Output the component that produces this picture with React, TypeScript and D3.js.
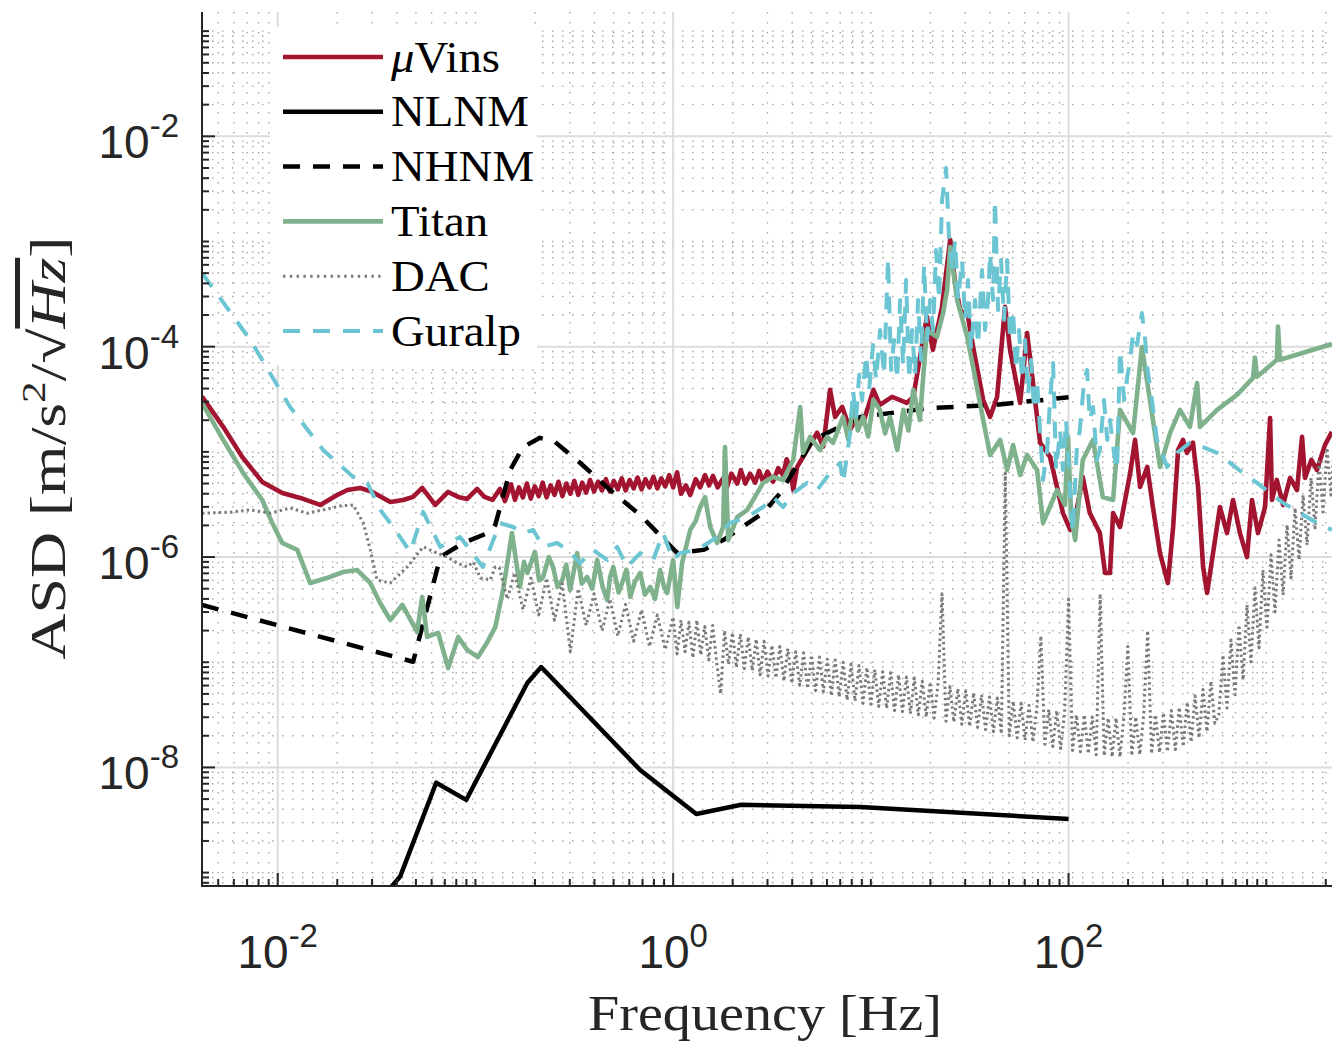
import React, { useEffect, useRef } from "react";
import * as d3 from "d3";

type Pt = [number, number];

// [frequency Hz, ASD m/s^2/sqrt(Hz)]
const uvins: Pt[] = [
  [0.00414, 3.35e-5], [0.0053, 1.73e-5], [0.00661, 8.96e-6], [0.00835, 5.18e-6], [0.01055, 4.06e-6],
  [0.013, 3.65e-6], [0.0164, 3.13e-6], [0.02, 3.89e-6], [0.0225, 4.34e-6], [0.0261, 4.54e-6],
  [0.0301, 4.16e-6], [0.0371, 3.34e-6], [0.0431, 3.49e-6], [0.0484, 3.73e-6], [0.0538, 4.54e-6],
  [0.0626, 3.13e-6], [0.0728, 4.16e-6], [0.0818, 3.73e-6], [0.0908, 3.57e-6], [0.102, 4.44e-6],
  [0.111, 3.73e-6], [0.122, 3.49e-6], [0.133, 4.44e-6], [0.141, 3.41e-6],
  [0.1514, 4.9e-6], [0.1585, 3.5e-6], [0.166, 4.6e-6], [0.1738, 3.7e-6], [0.182, 5.0e-6],
  [0.1905, 3.6e-6], [0.1995, 4.7e-6], [0.2089, 3.8e-6], [0.2188, 5.1e-6], [0.2291, 3.7e-6],
  [0.2399, 4.8e-6], [0.2512, 3.9e-6], [0.263, 5.2e-6], [0.2754, 3.8e-6], [0.2884, 5.0e-6],
  [0.302, 4.0e-6], [0.3162, 5.3e-6], [0.3311, 3.9e-6], [0.3467, 5.1e-6], [0.3631, 4.1e-6],
  [0.3802, 5.4e-6], [0.3981, 4.2e-6], [0.4169, 5.2e-6], [0.4365, 4.3e-6], [0.4571, 5.5e-6],
  [0.4786, 4.2e-6], [0.5012, 5.3e-6], [0.5248, 4.4e-6], [0.5495, 5.6e-6], [0.5754, 4.3e-6],
  [0.6026, 5.4e-6], [0.631, 4.5e-6], [0.6607, 5.7e-6], [0.6918, 4.4e-6], [0.7244, 5.5e-6],
  [0.7586, 4.6e-6], [0.7943, 5.8e-6], [0.8318, 4.5e-6], [0.871, 5.6e-6], [0.912, 4.7e-6],
  [0.955, 6.0e-6], [1.0, 4.6e-6], [1.047, 6.4e-6], [1.096, 4.0e-6], [1.16, 4.8e-6],
  [1.22, 3.89e-6], [1.3, 5.5e-6], [1.37, 4.6e-6], [1.45, 6.0e-6], [1.52, 4.8e-6],
  [1.59, 5.9e-6], [1.68, 4.6e-6], [1.79, 5.6e-6], [1.87, 4.6e-6], [1.97, 6.2e-6],
  [2.11, 5.0e-6], [2.2, 6.7e-6], [2.32, 5.0e-6], [2.45, 6.2e-6], [2.6, 5.1e-6],
  [2.72, 6.6e-6], [2.85, 5.2e-6], [3.0, 6.5e-6], [3.2, 5.2e-6], [3.4, 7.0e-6],
  [3.6, 6.0e-6], [3.75, 8.5e-6], [3.91, 7.0e-6], [4.05, 4.34e-6], [4.24, 7.19e-6],
  [4.76, 1.04e-5], [5.35, 1.52e-5], [5.74, 1.12e-5], [6.22, 3.89e-5], [6.59, 2.15e-5],
  [7.16, 2.68e-5], [7.85, 1.62e-5], [8.51, 2.15e-5], [9.14, 1.88e-5], [10.3, 3.89e-5],
  [11.1, 2.8e-5], [12.8, 3.33e-5], [15.2, 2.92e-5], [16.4, 3.33e-5], [19.2, 1.92e-4],
  [20.6, 9.33e-5], [22.9, 2.39e-4], [25.2, 1.04e-3], [26.7, 4.04e-4], [28.3, 2.23e-4],
  [31.0, 1.92e-4], [32.9, 9.93e-5], [37.0, 3.11e-5], [40.1, 2.15e-5], [43.5, 3.33e-5],
  [47.7, 2.39e-4], [50.6, 9.33e-5], [56.9, 2.92e-5], [61.7, 1.35e-4], [66.1, 4.52e-5],
  [71.8, 1.22e-5], [80.6, 8.96e-6], [93.7, 2.62e-6], [102, 1.81e-6], [110, 2.81e-6],
  [118, 5.78e-6], [128, 2.62e-6], [144, 1.69e-6], [153, 7.05e-7], [162, 7.05e-7],
  [168, 2.62e-6], [182, 1.93e-6], [205, 6.31e-6], [217, 1.3e-5], [230, 4.64e-6],
  [250, 7.19e-6], [267, 2.99e-6], [290, 1.09e-6], [318, 5.66e-7], [338, 1.93e-6],
  [358, 1.04e-5], [379, 1.3e-5], [397, 9.77e-6], [426, 1.22e-5], [452, 4.64e-6],
  [479, 8.05e-7], [502, 4.56e-7], [538, 1.09e-6], [583, 2.99e-6], [633, 1.69e-6],
  [679, 3.49e-6], [736, 1.69e-6], [799, 1.0e-6], [847, 3.49e-6], [908, 1.69e-6],
  [986, 2.99e-6], [1045, 2.1e-5], [1069, 3.49e-6], [1130, 5.41e-6], [1216, 3.13e-6],
  [1320, 5.65e-6], [1430, 4.34e-6], [1517, 1.39e-5], [1570, 5.65e-6], [1690, 8.38e-6],
  [1804, 6.73e-6], [1980, 1.16e-5], [2148, 1.55e-5],
];

const nlnm: Pt[] = [
  [0.0346, 6.1e-10], [0.0416, 9.17e-10], [0.0633, 7.16e-9], [0.0898, 4.91e-9], [0.183, 6.35e-8],
  [0.215, 9.0e-8], [0.681, 9.46e-9], [1.31, 3.61e-9], [2.21, 4.41e-9], [8.83, 4.21e-9], [100, 3.24e-9],
];

const nhnm: Pt[] = [
  [0.00414, 3.51e-7], [0.0484, 1.01e-7], [0.0664, 1.0e-6], [0.0867, 1.36e-6], [0.119, 1.73e-6],
  [0.126, 2.02e-6], [0.15, 6.73e-6], [0.174, 1.11e-5], [0.212, 1.36e-5], [0.253, 1.24e-5],
  [0.339, 7.84e-6], [0.48, 4.34e-6], [0.681, 2.51e-6], [1.05, 1.09e-6], [1.42, 1.17e-6],
  [1.79, 1.45e-6], [2.85, 2.62e-6], [3.48, 4.06e-6], [5.1, 1.3e-5], [8.83, 2.15e-5],
  [19.9, 2.61e-5], [41.5, 2.79e-5], [100, 3.3e-5],
];

const titan: Pt[] = [
  [0.00414, 2.92e-5], [0.0053, 1.3e-5], [0.00668, 6.31e-6], [0.00835, 3.49e-6], [0.00938, 2.11e-6],
  [0.01055, 1.36e-6], [0.01256, 1.17e-6], [0.01459, 5.67e-7], [0.01841, 6.47e-7], [0.02143, 7.21e-7],
  [0.02523, 7.53e-7], [0.02937, 5.67e-7], [0.03297, 3.66e-7], [0.0371, 2.52e-7], [0.0427, 3.51e-7],
  [0.0507, 1.94e-7], [0.0538, 4.18e-7], [0.057, 1.74e-7], [0.0648, 1.9e-7], [0.0728, 8.81e-8],
  [0.0818, 1.74e-7], [0.0908, 1.31e-7], [0.103, 1.12e-7], [0.115, 1.56e-7], [0.126, 2.16e-7],
  [0.138, 4.86e-7], [0.153, 1.69e-6], [0.168, 5.2e-7], [0.176, 9.0e-7], [0.183, 7.06e-7],
  [0.2, 1.12e-6], [0.21, 6.0e-7], [0.22, 6.47e-7], [0.235, 1.0e-6], [0.247, 8.05e-7],
  [0.26, 5.2e-7], [0.275, 6.05e-7], [0.288, 8.5e-7], [0.301, 4.86e-7], [0.315, 7.5e-7],
  [0.327, 1.09e-6], [0.345, 5.6e-7], [0.367, 6.47e-7], [0.39, 5.0e-7], [0.413, 9.38e-7],
  [0.44, 5.2e-7], [0.464, 3.91e-7], [0.48, 6.5e-7], [0.498, 8.05e-7], [0.53, 4.6e-7],
  [0.559, 6.05e-7], [0.58, 7.6e-7], [0.607, 4.18e-7], [0.64, 5.8e-7], [0.681, 7.06e-7],
  [0.72, 4.4e-7], [0.765, 5.2e-7], [0.81, 4.0e-7], [0.859, 7.53e-7], [0.9, 5.2e-7],
  [0.933, 4.56e-7], [0.97, 6.8e-7], [1.0, 9.38e-7], [1.05, 3.35e-7], [1.11, 8.77e-7],
  [1.22, 1.81e-6], [1.3, 2.2e-6], [1.37, 2.99e-6], [1.45, 3.72e-6], [1.54, 1.93e-6],
  [1.67, 1.36e-6], [1.79, 1.93e-6], [1.83, 1.11e-5], [1.9, 1.45e-6], [2.11, 2.4e-6],
  [2.37, 2.81e-6], [2.66, 4.06e-6], [2.85, 5.07e-6], [3.2, 5.78e-6], [3.6, 5.41e-6],
  [4.05, 8.38e-6], [4.39, 2.67e-5], [4.54, 9.77e-6], [4.93, 1.39e-5], [5.53, 1.04e-5],
  [6.01, 1.39e-5], [6.44, 1.22e-5], [7.24, 2.15e-5], [7.7, 1.3e-5], [8.13, 2.92e-5],
  [8.6, 1.6e-5], [9.14, 2.15e-5], [9.7, 1.4e-5], [10.3, 3.12e-5], [11.1, 2.51e-5],
  [11.8, 1.5e-5], [12.5, 2.15e-5], [13.6, 1.04e-5], [14.6, 2.51e-5], [15.5, 1.6e-5],
  [16.4, 3.89e-5], [17.7, 2.01e-5], [19.2, 1.44e-4], [21.6, 1.24e-4], [23.2, 2.09e-4],
  [24.3, 3.46e-4], [25.2, 8.87e-4], [27.3, 2.78e-4], [30.7, 1.24e-4], [32.9, 6.41e-5],
  [37.0, 2.01e-5], [40.1, 9.35e-6], [45.1, 1.3e-5], [48.9, 6.73e-6], [52.4, 1.16e-5],
  [56.9, 6.04e-6], [61.7, 9.35e-6], [69.3, 6.73e-6], [74.3, 2.11e-6], [87.5, 4.34e-6],
  [95.9, 3.13e-6], [99.4, 1.39e-5], [103, 2.51e-6], [108, 1.45e-6], [118, 8.38e-6],
  [133, 1.3e-5], [149, 3.72e-6], [168, 3.49e-6], [182, 2.51e-5], [212, 1.51e-5],
  [235, 9.93e-5], [258, 3.11e-5], [290, 7.19e-6], [326, 1.51e-5], [366, 2.51e-5],
  [411, 1.73e-5], [447, 4.52e-5], [462, 1.73e-5], [564, 2.51e-5], [711, 3.48e-5],
  [857, 5.06e-5], [877, 7.84e-5], [898, 5.17e-5], [1132, 7.5e-5], [1146, 1.55e-4],
  [1172, 7.5e-5], [1535, 8.75e-5], [2148, 1.06e-4],
];

const dac: Pt[] = [
  [0.00414, 2.61e-6], [0.00575, 2.67e-6], [0.00726, 2.81e-6], [0.00917, 2.61e-6], [0.01156, 2.93e-6],
  [0.0141, 2.61e-6], [0.017, 2.81e-6], [0.0207, 3.06e-6], [0.0241, 3.13e-6], [0.0271, 2.11e-6],
  [0.0294, 1.17e-6], [0.0318, 6.05e-7], [0.0371, 5.67e-7], [0.0452, 8.05e-7], [0.0544, 1.25e-6],
  [0.0641, 1.09e-6], [0.072, 1.0e-6], [0.0809, 8.77e-7], [0.0908, 8.05e-7], [0.0975, 8.97e-7],
  [0.106, 6.32e-7], [0.119, 6.05e-7], [0.126, 8.05e-7],
  [0.132, 7.94e-7], [0.145, 3.98e-7], [0.158, 7.08e-7], [0.174, 3.16e-7], [0.191, 6.31e-7],
  [0.209, 2.82e-7], [0.229, 6.31e-7], [0.251, 2.51e-7], [0.275, 5.62e-7], [0.302, 1.26e-7],
  [0.331, 5.01e-7], [0.363, 2.24e-7], [0.398, 4.47e-7], [0.437, 2.0e-7], [0.479, 3.98e-7],
  [0.525, 1.78e-7], [0.575, 3.55e-7], [0.631, 1.58e-7], [0.692, 3.16e-7], [0.759, 1.41e-7],
  [0.832, 2.82e-7], [0.912, 1.32e-7],
  [1.0, 2.69e-7], [1.047, 1.2e-7], [1.096, 2.51e-7], [1.148, 1.26e-7], [1.202, 2.4e-7],
  [1.259, 1.1e-7], [1.318, 2.51e-7], [1.38, 1.17e-7], [1.445, 2.19e-7], [1.514, 1.05e-7],
  [1.585, 2.24e-7], [1.66, 1.0e-7], [1.738, 5.01e-8], [1.82, 2.0e-7], [1.905, 9.55e-8],
  [1.995, 1.91e-7], [2.089, 8.91e-8], [2.188, 1.86e-7], [2.291, 8.71e-8], [2.399, 1.74e-7],
  [2.512, 8.32e-8], [2.63, 1.66e-7], [2.754, 7.59e-8], [2.884, 1.58e-7], [3.02, 7.41e-8],
  [3.162, 1.45e-7], [3.311, 7.08e-8], [3.467, 1.41e-7], [3.631, 6.61e-8], [3.802, 1.35e-7],
  [3.981, 6.31e-8], [4.169, 1.26e-7], [4.365, 6.03e-8], [4.571, 1.23e-7], [4.786, 5.62e-8],
  [5.012, 1.17e-7], [5.248, 5.37e-8], [5.495, 1.12e-7], [5.754, 5.25e-8], [6.026, 1.07e-7],
  [6.31, 4.79e-8], [6.607, 1.05e-7], [6.918, 4.68e-8], [7.244, 1.0e-7], [7.586, 4.37e-8],
  [7.943, 9.55e-8], [8.318, 4.27e-8], [8.71, 9.33e-8], [9.12, 4.07e-8], [9.55, 8.91e-8],
  [10.0, 3.98e-8], [10.47, 8.51e-8], [10.96, 3.8e-8], [11.48, 8.13e-8], [12.02, 3.63e-8],
  [12.59, 7.94e-8], [13.18, 3.47e-8], [13.8, 7.59e-8], [14.45, 3.39e-8], [15.14, 7.24e-8],
  [15.85, 3.24e-8], [16.6, 7.08e-8], [17.38, 3.16e-8], [18.2, 6.61e-8], [19.05, 3.02e-8],
  [19.95, 6.46e-8], [20.89, 2.95e-8], [21.88, 6.31e-8], [22.91, 4.47e-7], [23.99, 2.75e-8],
  [25.12, 5.89e-8], [26.3, 2.69e-8], [27.54, 5.62e-8], [28.84, 2.57e-8], [30.2, 5.37e-8],
  [31.62, 2.45e-8], [33.11, 5.13e-8], [34.67, 2.4e-8], [36.31, 4.9e-8], [38.02, 2.29e-8],
  [39.81, 4.68e-8], [41.69, 2.19e-8], [43.65, 4.57e-8], [45.71, 2.09e-8], [47.86, 6.31e-6],
  [50.12, 2.0e-8], [52.48, 4.27e-8], [54.95, 1.91e-8], [57.54, 4.07e-8], [60.26, 1.82e-8],
  [63.1, 3.89e-8], [66.07, 1.74e-8], [69.18, 3.8e-8], [72.44, 1.78e-7], [75.86, 1.66e-8],
  [79.43, 3.55e-8], [83.18, 1.58e-8], [87.1, 3.47e-8], [91.2, 1.51e-8], [95.5, 3.31e-8],
  [100.0, 3.98e-7], [104.7, 1.45e-8], [109.6, 3.16e-8], [114.8, 1.41e-8], [120.2, 3.16e-8],
  [125.9, 1.35e-8], [131.8, 3.02e-8], [138.0, 1.32e-8], [144.5, 4.47e-7], [151.4, 1.29e-8],
  [158.5, 2.95e-8], [166.0, 1.26e-8], [173.8, 2.95e-8], [182.0, 1.26e-8], [190.5, 3.02e-8],
  [199.5, 1.41e-7], [208.9, 1.29e-8], [218.8, 3.02e-8], [229.1, 1.32e-8], [239.9, 3.16e-8],
  [251.2, 2.0e-7], [263.0, 1.35e-8], [275.4, 3.16e-8], [288.4, 1.38e-8], [302.0, 3.31e-8],
  [316.2, 1.41e-8], [331.1, 3.47e-8], [346.7, 1.48e-8], [363.1, 3.72e-8], [380.2, 1.58e-8],
  [398.1, 4.17e-8], [416.9, 1.74e-8], [436.5, 4.79e-8], [457.1, 1.91e-8], [478.6, 5.5e-8],
  [501.2, 2.19e-8], [524.8, 6.61e-8], [549.5, 2.63e-8], [575.4, 3.16e-8],
  [604, 1.17e-7], [633, 3.68e-8], [663, 1.63e-7],
  [695, 4.9e-8], [728, 2.26e-7], [763, 6.79e-8], [799, 3.51e-7], [837, 1.01e-7],
  [877, 5.08e-7], [919, 1.37e-7], [962, 7.53e-7], [1008, 2.03e-7], [1057, 1.05e-6],
  [1107, 3.01e-7], [1160, 1.45e-6], [1216, 4.37e-7], [1274, 2.02e-6], [1334, 6.32e-7],
  [1398, 2.93e-6], [1465, 9.38e-7], [1535, 3.89e-6], [1608, 1.3e-6], [1684, 5.65e-6],
  [1765, 1.89e-6], [1849, 8.02e-6], [1937, 2.68e-6], [2029, 1.09e-5], [2125, 3.89e-6],
  [2226, 1.45e-5],
];

const guralp: Pt[] = [
  [0.00414, 5.01e-4], [0.00726, 1.16e-4], [0.01156, 2.67e-5], [0.01698, 1.04e-5], [0.0241, 5.78e-6],
  [0.0284, 5.07e-6], [0.033, 2.81e-6], [0.0384, 1.93e-6], [0.0468, 1.12e-6], [0.0544, 2.69e-6],
  [0.0664, 1.25e-6], [0.0837, 1.55e-6], [0.109, 8.05e-7], [0.133, 2.11e-6], [0.155, 1.93e-6],
  [0.174, 1.69e-6], [0.196, 1.81e-6], [0.22, 1.25e-6], [0.259, 1.36e-6], [0.291, 1.17e-6],
  [0.339, 8.77e-7], [0.394, 1.17e-6], [0.464, 9.38e-7], [0.521, 1.25e-6], [0.585, 8.05e-7],
  [0.681, 1.09e-6], [0.792, 9.38e-7], [0.89, 1.69e-6], [1.0, 9.38e-7], [1.08, 1.09e-6],
  [1.32, 1.17e-6], [1.67, 1.55e-6], [1.94, 2.11e-6], [2.37, 2.4e-6], [2.85, 2.99e-6],
  [3.2, 3.72e-6], [3.6, 2.99e-6], [4.05, 4.06e-6], [4.76, 5.07e-6], [5.35, 4.34e-6],
  [6.22, 6.31e-6], [6.99, 7.85e-6], [7.24, 5.07e-6],
  [7.85, 1.51e-5], [8.13, 3.88e-5], [8.42, 2.01e-5], [8.72, 5.4e-5], [9.03, 3.11e-5],
  [9.46, 8.35e-5], [9.8, 3.88e-5], [10.26, 1.04e-4], [10.63, 4.83e-5], [11.13, 1.44e-4],
  [11.66, 5.4e-5], [12.22, 6.97e-4], [12.65, 6.01e-5], [13.11, 1.16e-4], [13.58, 4.83e-5],
  [14.06, 2.78e-4], [14.56, 6.71e-5], [15.08, 4.31e-4], [15.61, 4.83e-5], [16.17, 1.44e-4],
  [16.74, 5.4e-5], [17.33, 2.78e-4], [17.95, 7.48e-5], [18.59, 5.98e-4], [19.25, 1.16e-4],
  [19.93, 2.78e-4], [20.64, 1.44e-4], [21.37, 8.3e-4], [22.13, 2.78e-4], [22.92, 2.48e-3],
  [24.02, 4.99e-3], [24.87, 1.03e-3], [25.75, 5.36e-4], [26.67, 1.03e-3], [27.61, 2.78e-4],
  [28.93, 6.67e-4], [29.96, 1.8e-4], [31.02, 4.31e-4], [32.12, 9.31e-5], [33.66, 2.78e-4],
  [34.86, 1.04e-4], [36.51, 5.36e-4], [37.81, 1.44e-4], [39.15, 2.78e-4], [40.07, 7.78e-4],
  [41.49, 2.78e-4], [42.47, 2.48e-3], [43.98, 2.23e-4], [45.55, 6.67e-4], [47.16, 1.8e-4],
  [48.84, 6.67e-4], [50.58, 1.16e-4], [52.38, 2.23e-4], [54.24, 6.01e-5], [56.17, 1.44e-4],
  [58.16, 4.83e-5], [60.23, 1.16e-4], [62.37, 3.48e-5], [64.59, 7.48e-5], [66.88, 2.5e-5],
  [69.26, 4.83e-5], [71.72, 1.61e-5], [74.27, 5.41e-6],
  [77.9, 1.04e-5], [80.6, 3.11e-5], [83.5, 7.0e-5], [86.5, 6.73e-6], [90.6, 1.61e-5],
  [93.7, 6.73e-6], [97.1, 2.01e-5], [102, 4.06e-6], [105, 1.69e-6], [110, 1.04e-5],
  [114, 1.61e-5], [120, 4.83e-5], [124, 6.01e-5], [128, 2.01e-5], [133, 2.67e-5],
  [139, 8.38e-6], [144, 1.04e-5], [151, 3.11e-5], [157, 1.3e-5], [162, 2.01e-5],
  [170, 9.5e-6], [176, 6.73e-6], [182, 9.31e-5], [191, 3.11e-5], [198, 5.15e-5],
  [205, 7.48e-5], [212, 1.35e-4], [222, 1.04e-4], [235, 2.09e-4], [244, 1.16e-4],
  [250, 6.41e-5], [264, 3.11e-5], [280, 1.3e-5], [315, 7.19e-6], [354, 9.77e-6],
  [411, 1.22e-5], [479, 1.11e-5], [564, 9.77e-6], [656, 7.85e-6], [763, 6.31e-6],
  [898, 5.07e-6], [1045, 4.06e-6], [1216, 3.27e-6], [1482, 2.62e-6], [1804, 2.11e-6],
  [2148, 1.81e-6],
];

const xTickValues = [1e-2, 1e0, 1e2];
const yTickValues = [1e-8, 1e-6, 1e-4, 1e-2];
const seriesNames = ["μVins", "NLNM", "NHNM", "Titan", "DAC", "Guralp"];

const sans = "'Liberation Sans', Arial, Helvetica, sans-serif";
const serif = "'Liberation Serif', 'Times New Roman', serif";

export default function App() {
  const ref = useRef<SVGSVGElement>(null);

  useEffect(() => {
    document.body.style.margin = "0";
    const svg = d3.select(ref.current!);
    svg.selectAll("*").remove();

    const left = 202, right = 1332, top = 12, bottom = 886;
    const x = d3.scaleLog().domain([0.00414, 2150]).range([left, right]);
    const y = d3.scaleLog().domain([7.46e-10, 0.152]).range([bottom, top]);

    const allTicks = (lo: number, hi: number) => {
      const out: number[] = [];
      for (let e = Math.floor(Math.log10(lo)); e <= Math.ceil(Math.log10(hi)); e++)
        for (let k = 1; k < 10; k++) {
          const v = k * Math.pow(10, e);
          if (v >= lo && v <= hi) out.push(v);
        }
      return out;
    };
    const isMajor = (v: number, majors: number[]) => majors.some((t) => Math.abs(Math.log10(v / t)) < 1e-6);
    const xMinor = allTicks(0.00414, 2150).filter((v) => !isMajor(v, xTickValues));
    const yMinor = allTicks(7.46e-10, 0.152).filter((v) => !isMajor(v, yTickValues));

    svg.append("rect").attr("width", 1332).attr("height", 1043).attr("fill", "#fff");

    // minor grid (dotted)
    const grid = svg.append("g");
    xMinor.forEach((v) => {
      grid.append("line").attr("x1", x(v)).attr("x2", x(v)).attr("y1", top).attr("y2", bottom)
        .attr("stroke", "#a8a8a8").attr("stroke-width", 1.4).attr("stroke-dasharray", "1.5,8.5");
    });
    yMinor.forEach((v) => {
      grid.append("line").attr("x1", left).attr("x2", right).attr("y1", y(v)).attr("y2", y(v))
        .attr("stroke", "#a8a8a8").attr("stroke-width", 1.4).attr("stroke-dasharray", "1.5,8.5");
    });
    // major grid
    xTickValues.forEach((v) => {
      grid.append("line").attr("x1", x(v)).attr("x2", x(v)).attr("y1", top).attr("y2", bottom)
        .attr("stroke", "#dcdcdc").attr("stroke-width", 2);
    });
    yTickValues.forEach((v) => {
      grid.append("line").attr("x1", left).attr("x2", right).attr("y1", y(v)).attr("y2", y(v))
        .attr("stroke", "#dcdcdc").attr("stroke-width", 2);
    });

    // series, drawn in legend order
    const series = [
      { data: uvins, color: "#A2142F", width: 4.6, dash: "" },
      { data: nlnm, color: "#000000", width: 4.5, dash: "" },
      { data: nhnm, color: "#000000", width: 4.5, dash: "17,13" },
      { data: titan, color: "#7EB18C", width: 4.6, dash: "" },
      { data: dac, color: "#7a7a7a", width: 3, dash: "2.4,3.2" },
      { data: guralp, color: "#6CC5D2", width: 4, dash: "17,13" },
    ];

    svg.append("clipPath").attr("id", "plot-clip").append("rect")
      .attr("x", left).attr("y", top).attr("width", right - left).attr("height", bottom - top);

    const line = d3.line<Pt>().x((d) => x(d[0])).y((d) => y(d[1]));
    const plot = svg.append("g").attr("clip-path", "url(#plot-clip)");
    series.forEach((s) => {
      plot.append("path").datum(s.data).attr("d", line).attr("fill", "none")
        .attr("stroke", s.color).attr("stroke-width", s.width)
        .attr("stroke-linejoin", "round")
        .attr("stroke-dasharray", s.dash || null);
    });

    // legend
    const lg = svg.append("g");
    lg.append("rect").attr("x", 270).attr("y", 27).attr("width", 267).attr("height", 338).attr("fill", "#fff");
    series.forEach((s, i) => {
      const ly = 57 + i * 54.8;
      lg.append("line").attr("x1", 283).attr("x2", 383).attr("y1", ly).attr("y2", ly)
        .attr("stroke", s.color).attr("stroke-width", s.width)
        .attr("stroke-dasharray", i === 4 ? "2.4,4.4" : s.dash || null);
      const t = lg.append("text").attr("x", 391).attr("y", ly + 14.5)
        .attr("font-family", serif).attr("font-size", 45).attr("fill", "#000");
      if (i === 0) {
        t.append("tspan").attr("font-style", "italic").text(seriesNames[i].slice(0, 1));
        t.append("tspan").text(seriesNames[i].slice(1));
      } else {
        t.text(seriesNames[i]);
      }
      const node = t.node() as SVGTextElement;
      const w = node.getComputedTextLength();
      t.attr("textLength", w * 1.04).attr("lengthAdjust", "spacingAndGlyphs");
    });

    // axes lines and ticks
    const ax = svg.append("g").attr("stroke", "#262626").attr("stroke-width", 2);
    ax.append("line").attr("x1", left).attr("x2", left).attr("y1", top).attr("y2", bottom + 1);
    ax.append("line").attr("x1", left - 1).attr("x2", right).attr("y1", bottom).attr("y2", bottom);
    xMinor.forEach((v) => ax.append("line").attr("x1", x(v)).attr("x2", x(v)).attr("y1", bottom).attr("y2", bottom - 7));
    xTickValues.forEach((v) => ax.append("line").attr("x1", x(v)).attr("x2", x(v)).attr("y1", bottom).attr("y2", bottom - 13));
    yMinor.forEach((v) => ax.append("line").attr("x1", left).attr("x2", left + 7).attr("y1", y(v)).attr("y2", y(v)));
    yTickValues.forEach((v) => ax.append("line").attr("x1", left).attr("x2", left + 13).attr("y1", y(v)).attr("y2", y(v)));

    const expo = (v: number) => String(Math.round(Math.log10(v)));

    xTickValues.forEach((v) => {
      const t = svg.append("text").attr("x", x(v)).attr("y", 968).attr("text-anchor", "middle")
        .attr("font-family", sans).attr("font-size", 46).attr("fill", "#262626");
      t.append("tspan").text("10");
      t.append("tspan").attr("font-size", 33).attr("dy", -21).text(expo(v));
    });
    yTickValues.forEach((v) => {
      const t = svg.append("text").attr("x", 179).attr("y", y(v) + 22).attr("text-anchor", "end")
        .attr("font-family", sans).attr("font-size", 46).attr("fill", "#262626");
      t.append("tspan").text("10");
      t.append("tspan").attr("font-size", 33).attr("dy", -21).text(expo(v));
    });

    // axis labels
    svg.append("text").attr("x", 765).attr("y", 1030).attr("text-anchor", "middle")
      .attr("font-family", serif).attr("font-size", 50).attr("fill", "#262626")
      .attr("textLength", 354).attr("lengthAdjust", "spacingAndGlyphs")
      .text("Frequency [Hz]");

    const yl = svg.append("text").attr("transform", "translate(65,448) rotate(-90)")
      .attr("text-anchor", "middle").attr("font-family", serif).attr("font-size", 50)
      .attr("fill", "#262626").attr("textLength", 423).attr("lengthAdjust", "spacingAndGlyphs");
    yl.append("tspan").text("ASD [m/s");
    yl.append("tspan").attr("font-size", 34).attr("dy", -20).text("2");
    yl.append("tspan").attr("dy", 20).text("/√");
    yl.append("tspan").attr("font-style", "italic").attr("text-decoration", "overline").text("Hz");
    yl.append("tspan").text("]");
  }, []);

  return <svg ref={ref} width={1332} height={1043} style={{ display: "block", background: "#fff" }} />;
}
